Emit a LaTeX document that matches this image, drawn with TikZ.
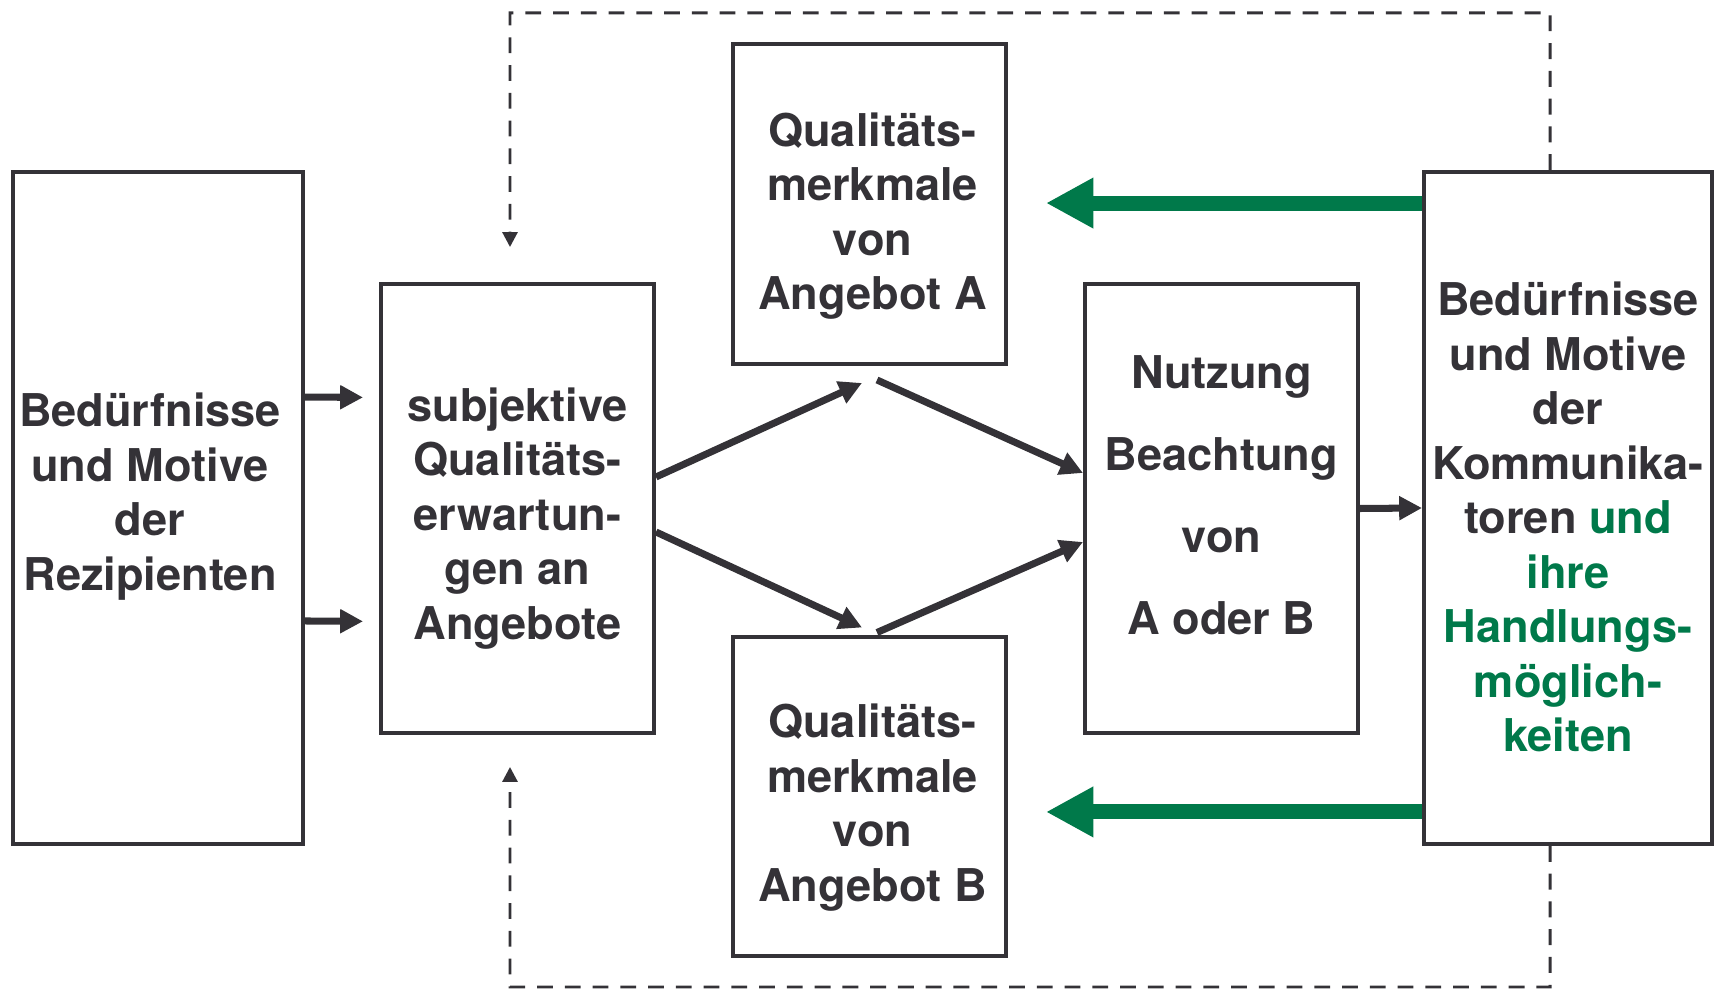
\documentclass[tikz,border=0pt]{standalone}
\usepackage{fontspec}
\setmainfont{TeX Gyre Heros}
\usetikzlibrary{arrows.meta,calc}
\definecolor{ink}{RGB}{52,50,55}
\definecolor{actgreen}{RGB}{0,121,74}
\tikzset{
  box/.style = {draw=ink, line width=2.3pt, inner sep=0pt},
  boxtext/.style = {text=ink, align=center, inner sep=0pt,
    font=\bfseries\fontsize{25.7}{31}\selectfont},
  flow/.style = {-{Triangle[length=13pt,width=13pt]}, draw=ink, line width=4pt},
  action/.style = {-{Triangle[length=27pt,width=27pt]}, draw=actgreen, line width=8.5pt},
  feedback/.style = {-{Triangle[length=8.5pt,width=8.5pt]}, draw=ink, line width=1.7pt,
    dash pattern=on 9pt off 6.8pt},
}

\begin{document}
\begin{tikzpicture}[x=0.02cm, y=-0.02cm]
\useasboundingbox (0,0) rectangle (1715,989);

% Rezipienten
\node[box, minimum width=5.8cm, minimum height=13.44cm] (rez) at (158,508) {};
\node[boxtext] (reztext) at (150,496.5) {Bedürfnisse\\und Motive\\der\\Rezipienten};
\node[box, minimum width=5.46cm, minimum height=8.98cm] (erw) at (517.5,508.5) {};
\node[boxtext] (erwtext) at (517.5,518.5)
  {subjektive\\Qualitäts-\\erwartun-\\gen an\\Angebote};

% Angebote A und B
\node[box, minimum width=5.46cm, minimum height=6.4cm] (qa) at (869.5,204) {};
\node[boxtext] (qatext) at (872.5,216) {Qualitäts-\\merkmale\\von\\Angebot A};
\node[box, minimum width=5.46cm, minimum height=6.4cm] (qb) at (869.5,796.5) {};
\node[boxtext] (qbtext) at (872.5,807.5) {Qualitäts-\\merkmale\\von\\Angebot B};

% Nutzung
\node[box, minimum width=5.46cm, minimum height=8.98cm] (nutz) at (1221.5,508.5) {};
\node[boxtext, font=\bfseries\fontsize{25.7}{46.7}\selectfont] (nutztext) at (1221.5,495)
  {Nutzung\\Beachtung\\von\\A oder B};

% Kommunikatoren
\node[box, minimum width=5.76cm, minimum height=13.44cm] (kom) at (1568,508) {};
\node[boxtext] (komtext) at (1568,517)
  {Bedürfnisse\\und Motive\\der\\Kommunika-\\toren \textcolor{actgreen}{und}\\
   \textcolor{actgreen}{ihre}\\\textcolor{actgreen}{Handlungs-}\\
   \textcolor{actgreen}{möglich-}\\\textcolor{actgreen}{keiten}};

% Pfeile
\draw[flow, shorten >=0.32cm] ([yshift=2.22cm]rez.east) -- ([yshift=2.22cm]erw.west);
\draw[flow, shorten >=0.32cm] ([yshift=-2.26cm]rez.east) -- ([yshift=-2.26cm]erw.west);
\draw[flow] ([yshift=0.63cm]erw.east) -- ([xshift=-0.15cm, yshift=-0.34cm]qa.south);
\draw[flow] ([yshift=-0.47cm]erw.east) -- ([xshift=-0.15cm, yshift=0.14cm]qb.north);
\draw[flow] ([xshift=0.15cm, yshift=-0.28cm]qa.south) -- ([yshift=0.71cm]nutz.west);
\draw[flow] ([xshift=0.15cm, yshift=0.04cm]qb.north) -- ([yshift=-0.67cm]nutz.west);
\draw[flow] (nutz.east) -- (kom.west);

\draw[action, shorten >=0.76cm] ([yshift=6.1cm]kom.west) -- ([yshift=6.1cm]kom.west -| qa.east);
\draw[action, shorten >=0.76cm] ([yshift=-6.08cm]kom.west) -- ([yshift=-6.08cm]kom.west -| qb.east);

% Rueckkopplung
\coordinate (fbtop) at (510,13);
\coordinate (fbbot) at (510,987);
\draw[feedback, shorten >=0.7cm] ([xshift=-0.36cm]kom.north) |- (fbtop) -- ([xshift=-0.15cm]erw.north);
\draw[feedback, shorten >=0.64cm] ([xshift=-0.36cm]kom.south) |- (fbbot) -- ([xshift=-0.15cm]erw.south);

\end{tikzpicture}
\end{document}
